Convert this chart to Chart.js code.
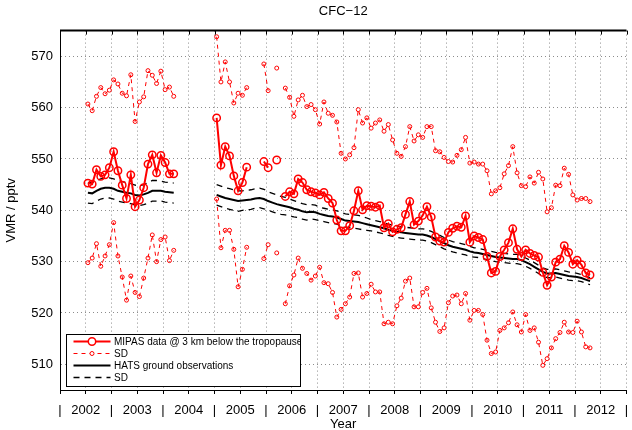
<!DOCTYPE html>
<html>
<head>
<meta charset="utf-8">
<script src="https://cdn.jsdelivr.net/npm/chart.js@4.4.0/dist/chart.umd.min.js"></script>
<style>
  html, body { margin: 0; padding: 0; background: #fff; }
</style>
</head>
<body>
<canvas id="chart" width="632" height="430"></canvas>
<script>
// monthly series, first value = July 2002, last = April 2012 (null = no data)
const startYear = 2002;
const startMonth = 7;

const mipasMean = [
  545.3, 545.1, 547.9, 546.6, 546.9, 548.3,
  551.4, 547.7, 544.9, 542.3, 546.9, 540.7, 542.0, 544.4, 549.0, 550.8, 547.3, 550.7,
  549.3, 547.1, 547.1, null, null, null, null, null, null, null, null, null,
  558.0, 548.8, 552.4, 550.6, 546.7, 543.8, 545.4, 548.4, null, null, null, 549.5,
  548.3, null, 549.8, null, 542.7, 543.6, 543.2, 546.1, 545.4, 544.0, 543.6, 543.4,
  543.0, 543.5, 542.3, 541.4, 538.1, 536.0, 536.0, 537.0, 539.9, 543.8, 540.1, 540.9,
  540.8, 540.6, 540.9, 536.6, 537.4, 535.8, 536.3, 536.6, 539.2, 541.7, 537.2, 537.9,
  539.0, 540.7, 538.7, 534.8, 534.0, 533.8, 535.7, 536.5, 536.9, 536.7, 538.9, 533.8,
  535.0, 534.7, 534.3, 531.0, 527.8, 528.1, 531.0, 532.3, 533.7, 536.4, 532.4, 531.0,
  532.3, 531.6, 531.2, 530.9, 527.9, 525.4, 527.0, 529.9, 530.5, 533.1, 531.8, 529.5,
  530.3, 529.4, 527.8, 527.4
];

const mipasSdUp = [
  560.7, 559.4, 562.2, 563.9, 562.7, 563.4,
  565.4, 564.6, 562.8, 562.3, 566.4, 557.3, 561.1, 562.1, 567.2, 566.3, 564.7, 567.1,
  563.5, 564.0, 562.2, null, null, null, null, null, null, null, null, null,
  573.8, 565.0, 568.9, 565.0, 560.9, 562.8, 562.4, 563.9, null, null, null, 568.5,
  563.3, null, 567.7, null, 563.8, 562.0, 558.3, 561.5, 562.4, 560.2, 560.6, 559.6,
  556.8, 561.1, 558.9, 558.5, 557.2, 551.1, 550.0, 550.8, 552.2, 559.6, 557.0, 558.0,
  556.0, 557.0, 557.6, 555.4, 556.7, 553.7, 551.1, 550.5, 552.4, 556.3, 553.5, 554.7,
  554.2, 556.3, 556.3, 551.6, 551.4, 550.3, 549.5, 549.4, 550.7, 551.8, 554.2, 549.2,
  549.4, 549.0, 549.0, 547.7, 543.2, 543.8, 544.4, 547.1, 548.7, 552.4, 547.3, 544.8,
  544.6, 546.5, 545.3, 547.4, 546.1, 539.7, 540.5, 544.9, 544.8, 548.2, 547.0, 543.0,
  542.0, 542.3, 542.3, 541.7
];

const mipasSdLow = [
  529.8, 530.7, 533.5, 529.1, 531.1, 533.3,
  537.6, 531.1, 527.0, 522.5, 527.2, 524.0, 523.2, 526.8, 530.7, 535.2, 530.0, 534.3,
  534.8, 530.2, 532.2, null, null, null, null, null, null, null, null, null,
  542.2, 532.7, 536.1, 536.1, 532.4, 525.1, 528.5, 532.8, null, null, null, 530.6,
  533.3, null, 531.7, null, 521.8, 525.3, 527.4, 530.7, 528.7, 527.7, 526.4, 527.2,
  528.9, 525.9, 525.7, 524.0, 519.2, 520.7, 521.8, 523.1, 527.7, 527.8, 523.1, 523.8,
  525.6, 524.1, 524.1, 517.9, 518.2, 517.9, 521.4, 522.9, 526.2, 526.8, 521.2, 521.2,
  524.0, 524.8, 521.0, 518.2, 516.4, 517.1, 522.0, 523.3, 523.5, 521.8, 523.8, 518.6,
  520.5, 520.5, 519.7, 514.7, 512.1, 512.4, 516.6, 517.1, 518.1, 520.2, 517.7, 516.3,
  519.7, 516.6, 517.1, 514.3, 509.8, 511.1, 513.2, 515.0, 516.2, 518.2, 516.3, 516.2,
  518.4, 516.3, 513.4, 513.2
];

const hatsMean = [
  543.4, 543.3, 543.8, 544.2, 544.4, 544.4,
  544.2, 543.8, 543.6, 543.4, 543.3, 543.0, 542.9, 543.1, 543.4, 543.8, 543.8, 543.8,
  543.6, 543.5, 543.4, null, null, null, null, null, null, null, null, null,
  543.0, 542.7, 542.4, 542.2, 542.0, 541.8, 541.9, 542.0, 542.1, 542.3, 542.4, 542.2,
  541.8, 541.5, 541.2, 541.0, 540.8, 540.6, 540.3, 540.1, 539.8, 539.6, 539.7, 539.6,
  539.3, 539.1, 538.9, 538.8, 538.6, 538.3, 538.0, 537.9, 537.8, 537.7, 537.5, 537.3,
  537.1, 536.9, 536.7, 536.5, 536.2, 536.0, 535.8, 535.7, 535.6, 535.5, 535.4, 535.3,
  535.3, 535.1, 534.8, 534.4, 534.0, 533.6, 533.2, 532.9, 532.7, 532.5, 532.3, 532.0,
  531.8, 531.7, 531.5, 531.3, 531.1, 530.9, 530.8, 530.7, 530.6, 530.5, 530.5, 530.3,
  529.9, 529.5, 529.0, 528.5, 528.0, 527.7, 527.7, 527.8, 527.6, 527.4, 527.2, 527.1,
  527.0, 526.8, 526.5, 526.2
];

const hatsSdUp = [
  545.4, 545.4, 545.8, 546.1, 546.3, 546.3,
  546.1, 545.8, 545.6, 545.4, 545.2, 544.9, 544.8, 545.0, 545.4, 545.8, 545.8, 545.7,
  545.5, 545.4, 545.3, null, null, null, null, null, null, null, null, null,
  545.0, 544.7, 544.4, 544.2, 544.0, 543.8, 543.8, 543.9, 544.0, 544.2, 544.3, 544.1,
  543.6, 543.3, 543.0, 542.7, 542.5, 542.2, 541.9, 541.6, 541.3, 541.1, 541.1, 541.0,
  540.6, 540.4, 540.2, 540.1, 539.9, 539.6, 539.3, 539.2, 539.1, 539.0, 538.8, 538.5,
  538.2, 538.0, 537.8, 537.6, 537.3, 537.1, 536.9, 536.8, 536.7, 536.6, 536.5, 536.4,
  536.4, 536.2, 535.9, 535.5, 535.1, 534.7, 534.2, 533.9, 533.7, 533.5, 533.3, 533.0,
  532.7, 532.6, 532.4, 532.2, 532.0, 531.8, 531.7, 531.6, 531.5, 531.4, 531.4, 531.2,
  530.7, 530.3, 529.8, 529.3, 528.8, 528.5, 528.5, 528.6, 528.4, 528.2, 528.0, 527.9,
  527.7, 527.5, 527.2, 526.9
];

const hatsSdLow = [
  541.4, 541.3, 541.8, 542.2, 542.4, 542.4,
  542.2, 541.8, 541.6, 541.4, 541.3, 541.0, 540.9, 541.1, 541.4, 541.8, 541.8, 541.8,
  541.6, 541.5, 541.4, null, null, null, null, null, null, null, null, null,
  541.0, 540.7, 540.4, 540.2, 540.0, 539.8, 540.0, 540.1, 540.2, 540.4, 540.5, 540.3,
  540.0, 539.7, 539.4, 539.2, 539.1, 538.9, 538.7, 538.6, 538.3, 538.1, 538.3, 538.2,
  538.0, 537.8, 537.6, 537.5, 537.3, 537.0, 536.7, 536.6, 536.5, 536.4, 536.2, 536.1,
  536.0, 535.8, 535.6, 535.4, 535.1, 534.9, 534.7, 534.6, 534.5, 534.4, 534.3, 534.2,
  534.2, 534.0, 533.7, 533.3, 532.9, 532.5, 532.2, 531.9, 531.7, 531.5, 531.3, 531.0,
  530.9, 530.8, 530.6, 530.4, 530.2, 530.0, 529.9, 529.8, 529.7, 529.6, 529.6, 529.4,
  529.1, 528.7, 528.2, 527.7, 527.2, 526.9, 526.9, 527.0, 526.8, 526.6, 526.4, 526.3,
  526.3, 526.1, 525.8, 525.5
];

const yearLabels = ['2002', '2003', '2004', '2005', '2006', '2007', '2008', '2009', '2010', '2011', '2012'];
const yTicks = [510, 520, 530, 540, 550, 560, 570];
const legendLabels = ['MIPAS data @ 3 km below the tropopause', 'SD', 'HATS ground observations', 'SD'];

// month index -> decimal year at mid-month
function monthToYear(i) {
    return startYear + (startMonth - 1 + i + 0.5) / 12;
}
function toPoints(arr) {
    return arr.map((v, i) => ({ x: monthToYear(i), y: v }));
}

// year boundaries get a '|' label, mid-years get the year
const xTickValues = [];
for (let i = 0; i <= yearLabels.length; i++) {
    xTickValues.push(startYear + i);
    if (i < yearLabels.length) xTickValues.push(startYear + i + 0.5);
}

const FONT = 'Liberation Sans, Arial, Helvetica, sans-serif';
Chart.defaults.font.family = FONT;
Chart.defaults.color = '#000';

const framePlugin = {
    id: 'frame',
    afterDraw(chart) {
        const c = chart.ctx;
        const a = chart.chartArea;
        const xs = chart.scales.x;
        c.save();
        // top frame line + inward ticks
        c.strokeStyle = '#000';
        c.lineWidth = 2;
        c.beginPath();
        c.moveTo(a.left, a.top);
        c.lineTo(a.right, a.top);
        c.stroke();
        c.lineWidth = 1;
        xs.ticks.forEach(t => {
            const px = Math.round(xs.getPixelForValue(t.value)) + 0.5;
            c.beginPath();
            c.moveTo(px, a.top);
            c.lineTo(px, a.top + 4);
            c.stroke();
        });

        // legend box, lower left corner of the plot
        const bx = a.left + 6.5, by = a.bottom - 55.5, bw = 234, bh = 52;
        c.fillStyle = '#fff';
        c.fillRect(bx, by, bw, bh);
        c.strokeStyle = '#000';
        c.lineWidth = 1;
        c.strokeRect(bx, by, bw, bh);
        c.beginPath();
        c.rect(bx, by, bw, bh);
        c.clip();

        const order = [0, 1, 3, 4];
        order.forEach((di, row) => {
            const ds = chart.data.datasets[di];
            const y = by + 7 + row * 12;
            const x0 = bx + 7, x1 = bx + 44, xm = (x0 + x1) / 2;
            c.strokeStyle = ds.borderColor;
            c.lineWidth = ds.borderWidth;
            c.setLineDash(ds.borderDash || []);
            c.beginPath();
            c.moveTo(x0, y);
            c.lineTo(x1, y);
            c.stroke();
            c.setLineDash([]);
            if (ds.pointRadius > 0) {
                c.lineWidth = ds.pointBorderWidth;
                c.fillStyle = '#fff';
                c.beginPath();
                c.arc(xm, y, ds.pointRadius, 0, Math.PI * 2);
                c.fill();
                c.stroke();
            }
            c.fillStyle = '#000';
            c.font = '10px ' + FONT;
            c.textBaseline = 'middle';
            c.textAlign = 'left';
            c.fillText(legendLabels[row], bx + 47.5, y + 0.5);
        });
        c.restore();
    }
};

const ctx = document.getElementById('chart').getContext('2d');
const chart = new Chart(ctx, {
    type: 'line',
    data: {
        datasets: [
            {
                label: legendLabels[0],
                data: toPoints(mipasMean),
                borderColor: '#ff0000',
                borderWidth: 2,
                pointRadius: 3.7,
                pointBorderWidth: 1.5,
                pointBackgroundColor: 'rgba(255,255,255,0)',
                pointBorderColor: '#ff0000'
            },
            {
                label: legendLabels[1],
                data: toPoints(mipasSdUp),
                borderColor: '#ff0000',
                borderWidth: 1,
                borderDash: [4, 4],
                pointRadius: 2,
                pointBorderWidth: 1,
                pointBackgroundColor: 'rgba(255,255,255,0)',
                pointBorderColor: '#ff0000'
            },
            {
                label: legendLabels[1],
                data: toPoints(mipasSdLow),
                borderColor: '#ff0000',
                borderWidth: 1,
                borderDash: [4, 4],
                pointRadius: 2,
                pointBorderWidth: 1,
                pointBackgroundColor: 'rgba(255,255,255,0)',
                pointBorderColor: '#ff0000'
            },
            {
                label: legendLabels[2],
                data: toPoints(hatsMean),
                borderColor: '#000',
                borderWidth: 2,
                pointRadius: 0
            },
            {
                label: legendLabels[3],
                data: toPoints(hatsSdUp),
                borderColor: '#000',
                borderWidth: 1.3,
                borderDash: [6, 5],
                pointRadius: 0
            },
            {
                label: legendLabels[3],
                data: toPoints(hatsSdLow),
                borderColor: '#000',
                borderWidth: 1.3,
                borderDash: [6, 5],
                pointRadius: 0
            }
        ]
    },
    options: {
        responsive: false,
        animation: false,
        devicePixelRatio: 1,
        spanGaps: false,
        layout: { padding: 0 },
        plugins: {
            legend: { display: false },
            tooltip: { enabled: false },
            title: {
                display: true,
                text: 'CFC\u221212',
                fullSize: false,
                color: '#000',
                font: { size: 13, weight: 'normal' },
                padding: { top: 4, bottom: 11 }
            }
        },
        scales: {
            x: {
                type: 'linear',
                min: 2002,
                max: 2013,
                afterBuildTicks: s => { s.ticks = xTickValues.map(v => ({ value: v })); },
                afterFit: s => { s.height = 40; s.paddingLeft = 0; s.paddingRight = 0; },
                ticks: {
                    autoSkip: false,
                    maxRotation: 0,
                    minRotation: 0,
                    padding: 9,
                    font: { size: 13 },
                    callback: v => Number.isInteger(v) ? '|' : yearLabels[Math.floor(v) - startYear]
                },
                grid: { color: '#8c8c8c', lineWidth: 1, tickLength: 4, tickColor: '#000', drawTicks: true },
                border: { display: true, color: '#000', width: 1, dash: [1, 3] },
                title: { display: true, text: 'Year', font: { size: 13 }, padding: { top: 0, bottom: -2 } }
            },
            y: {
                min: 505,
                max: 575,
                afterBuildTicks: s => { s.ticks = yTicks.map(v => ({ value: v })); },
                afterFit: s => { s.width = 60; },
                ticks: { padding: 7, font: { size: 13 } },
                grid: { color: '#8c8c8c', lineWidth: 1, drawTicks: false },
                border: { display: true, color: '#000', width: 1, dash: [1, 3] },
                title: { display: true, text: 'VMR / pptv', font: { size: 13 }, padding: { top: 4, bottom: 0 } }
            }
        }
    },
    plugins: [framePlugin]
});
</script>
</body>
</html>
